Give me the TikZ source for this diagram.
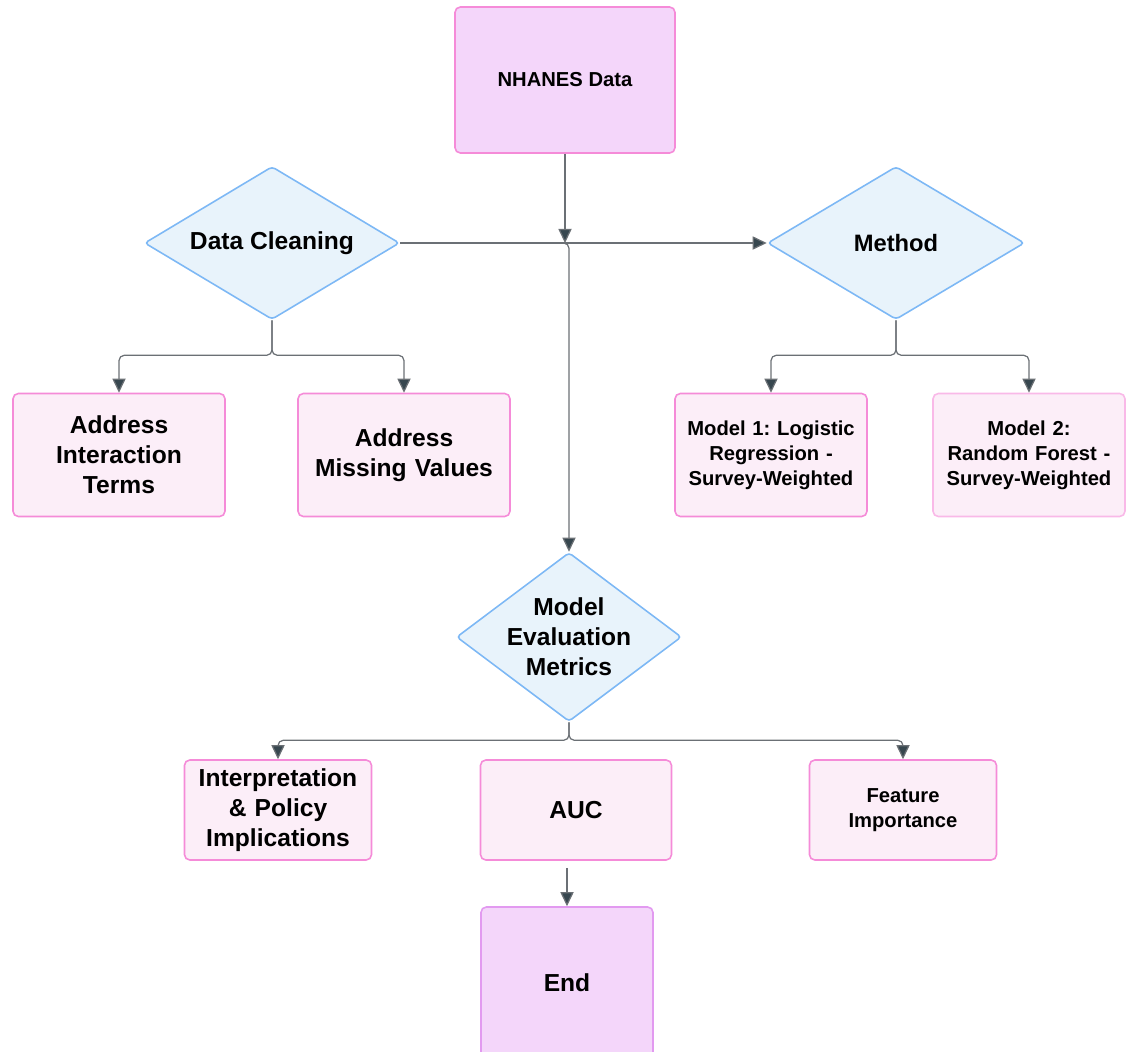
\documentclass[tikz,border=0pt]{standalone}
\usepackage{fontspec}
\setmainfont{Liberation Sans}
\usetikzlibrary{arrows.meta, positioning, shapes.geometric}

\definecolor{lineGray}{HTML}{6B7075}
\definecolor{tipGray}{HTML}{37474F}
\definecolor{boxFill}{HTML}{FCEEF8}
\definecolor{boxLine}{HTML}{F58BD8}
\definecolor{topFill}{HTML}{F4D6FA}
\definecolor{endLine}{HTML}{E29AF0}
\definecolor{decFill}{HTML}{E8F3FB}
\definecolor{decLine}{HTML}{7DB8F5}

\begin{document}
\frenchspacing
\begin{tikzpicture}[x=0.02cm, y=-0.02cm,
  bigtext/.style={font=\fontsize{14}{17}\selectfont\bfseries},
  smalltext/.style={font=\fontsize{11.5}{14.2}\selectfont\bfseries},
  taskbox/.style={draw=boxLine, fill=boxFill, line width=0.9pt, rounded corners=3pt,
    align=center, inner sep=2pt},
  startbox/.style={taskbox, fill=topFill},
  decision/.style={diamond, draw=decLine, fill=decFill, line width=0.9pt,
    rounded corners=2pt, inner sep=0pt},
  arr/.style={draw=lineGray, line width=0.7pt,
    -{Triangle[length=8pt, width=7.5pt, fill=tipGray]}, rounded corners=3pt}
]
\useasboundingbox (0,0) rectangle (1137,1052);

% Start
\node[startbox, smalltext, minimum width=4.4cm, minimum height=2.92cm] (nhanes) at (565,80) {NHANES Data};

% Decisions
\node[decision, minimum width=5.1cm, minimum height=3.06cm,
  label={[bigtext]center:Data Cleaning}] (clean) at (272,243) {};
\node[decision, minimum width=5.14cm, minimum height=3.06cm,
  label={[font=\fontsize{13.5}{17}\selectfont\bfseries]center:Method}] (method) at (896,243) {};
\coordinate (jn) at (565,243);

% Cleaning branch
\node[taskbox, bigtext, minimum width=4.24cm, minimum height=2.46cm, text width=4cm] (interact) at (119,455) {Address\\Interaction\\Terms};
\node[taskbox, bigtext, minimum width=4.24cm, minimum height=2.46cm, text width=4cm] (missing) at (404,455) {Address\\Missing Values};

% Method branch
\node[taskbox, smalltext, minimum width=3.84cm, minimum height=2.46cm, text width=3.7cm] (model1) at (771,455) {Model 1: Logistic\\Regression -\\Survey-Weighted};
\node[taskbox, smalltext, draw=boxLine!60, minimum width=3.84cm, minimum height=2.46cm, text width=3.7cm] (model2) at (1029,455) {Model 2:\\Random Forest -\\Survey-Weighted};

% Evaluation
\node[decision, minimum width=4.5cm, minimum height=3.38cm,
  label={[bigtext, align=center]center:Model\\Evaluation\\Metrics}] (eval) at (569,637) {};

\node[taskbox, bigtext, minimum width=3.7cm, minimum height=2cm, text width=3.6cm] (interp) at (278,810) {Interpretation\\\& Policy\\Implications};
\node[taskbox, bigtext, minimum width=3.82cm, minimum height=2cm] (auc) at (576,810) {AUC};
\node[taskbox, smalltext, minimum width=3.7cm, minimum height=2cm, text width=3.6cm] (feature) at (903,810) {Feature\\Importance};

% End
\node[startbox, bigtext, draw=endLine, minimum width=3.44cm, minimum height=3.04cm] (end) at (567,983) {End};

% Connectors
\draw[arr] (nhanes) -- (jn);
\draw[arr] (clean.east) -- (method.west);
\draw[arr] (jn) -| (eval.north);

\draw[arr] (clean.south) -- ++(0,35) -| (interact.north);
\draw[arr] (clean.south) -- ++(0,35) -| (missing.north);
\draw[arr] (method.south) -- ++(0,35) -| (model1.north);
\draw[arr] (method.south) -- ++(0,35) -| (model2.north);

\draw[arr] (eval.south) -- ++(0,18) -| (interp.north);
\draw[arr] (eval.south) -- ++(0,18) -| (feature.north);

\draw[arr, shorten <=4pt] (end.north |- auc.south) -- (end.north);

\end{tikzpicture}
\end{document}
